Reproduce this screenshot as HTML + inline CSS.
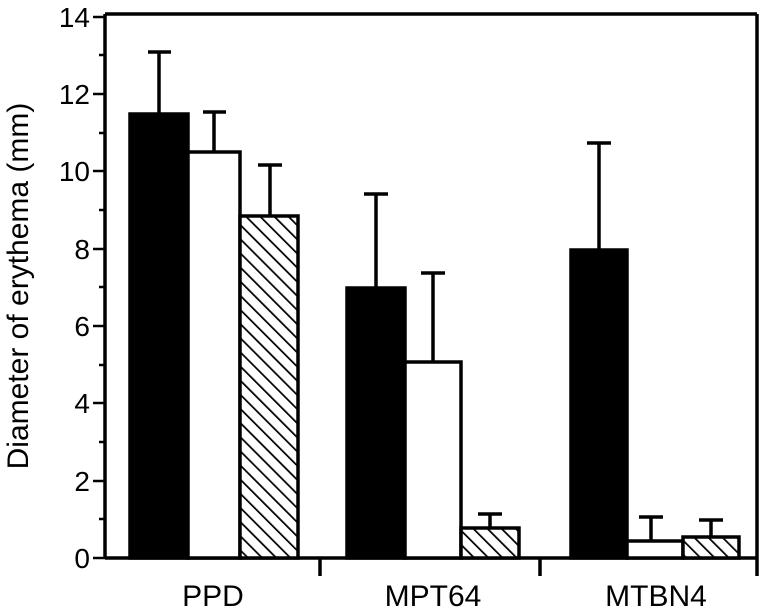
<!DOCTYPE html>
<html><head><meta charset="utf-8"><style>body{margin:0;background:#fff}svg{display:block}</style></head><body>
<svg width="761" height="610" xmlns="http://www.w3.org/2000/svg" font-family="Liberation Sans, Arial, sans-serif">
<defs><pattern id="h" width="10" height="10" patternUnits="userSpaceOnUse" patternTransform="rotate(-45)"><rect width="10" height="10" fill="#fff"/><line x1="0" y1="0" x2="0" y2="10" stroke="#000" stroke-width="3.5"/></pattern></defs>
<g stroke="#000" stroke-width="3.5" fill="none">
<line x1="105" y1="14" x2="757" y2="14"/>
<line x1="757" y1="14" x2="757" y2="576"/>
<line x1="105" y1="14" x2="105" y2="558"/>
<line x1="105" y1="558" x2="757" y2="558"/>
<line x1="320" y1="558" x2="320" y2="576"/>
<line x1="540" y1="558" x2="540" y2="576"/>
</g>
<g stroke="#000" stroke-width="2.5">
<line x1="93" y1="17" x2="105" y2="17"/><line x1="93" y1="94" x2="105" y2="94"/><line x1="93" y1="171" x2="105" y2="171"/><line x1="93" y1="249" x2="105" y2="249"/><line x1="93" y1="326" x2="105" y2="326"/><line x1="93" y1="403" x2="105" y2="403"/><line x1="93" y1="481" x2="105" y2="481"/><line x1="93" y1="558" x2="105" y2="558"/>
<line x1="99" y1="55" x2="105" y2="55"/><line x1="99" y1="133" x2="105" y2="133"/><line x1="99" y1="210" x2="105" y2="210"/><line x1="99" y1="287" x2="105" y2="287"/><line x1="99" y1="365" x2="105" y2="365"/><line x1="99" y1="442" x2="105" y2="442"/><line x1="99" y1="519" x2="105" y2="519"/>
</g>
<g font-size="28" text-anchor="end" fill="#000">
<text x="90" y="27">14</text><text x="90" y="104">12</text><text x="90" y="181">10</text><text x="90" y="259">8</text><text x="90" y="336">6</text><text x="90" y="413">4</text><text x="90" y="491">2</text><text x="90" y="568">0</text>
</g>
<text transform="translate(28,286) rotate(-90)" font-size="30" text-anchor="middle">Diameter of erythema (mm)</text>
<g font-size="30" text-anchor="middle"><text x="213" y="606">PPD</text><text x="433" y="606">MPT64</text><text x="656" y="606">MTBN4</text></g>
<g stroke="#000" stroke-width="3.5">
<line x1="159" y1="52" x2="159" y2="114"/><line x1="148" y1="52" x2="171" y2="52"/>
<line x1="214" y1="112" x2="214" y2="152"/><line x1="203" y1="112" x2="226" y2="112"/>
<line x1="270" y1="165" x2="270" y2="216"/><line x1="258" y1="165" x2="282" y2="165"/>
<line x1="376" y1="194" x2="376" y2="288"/><line x1="364" y1="194" x2="388" y2="194"/>
<line x1="433" y1="273" x2="433" y2="362"/><line x1="421" y1="273" x2="445" y2="273"/>
<line x1="490" y1="514" x2="490" y2="528"/><line x1="478" y1="514" x2="502" y2="514"/>
<line x1="599" y1="143" x2="599" y2="250"/><line x1="587" y1="143" x2="611" y2="143"/>
<line x1="651" y1="517" x2="651" y2="541"/><line x1="639" y1="517" x2="663" y2="517"/>
<line x1="711" y1="520" x2="711" y2="537"/><line x1="699" y1="520" x2="723" y2="520"/>
</g>
<g stroke="#000" stroke-width="3.5">
<rect x="130" y="114" width="58" height="444" fill="#000"/>
<rect x="188" y="152" width="52" height="406" fill="#fff"/>
<rect x="240" y="216" width="58" height="342" fill="url(#h)"/>
<rect x="347" y="288" width="58" height="270" fill="#000"/>
<rect x="405" y="362" width="56" height="196" fill="#fff"/>
<rect x="461" y="528" width="58" height="30" fill="url(#h)"/>
<rect x="571" y="250" width="56" height="308" fill="#000"/>
<rect x="627" y="541" width="56" height="17" fill="#fff"/>
<rect x="683" y="537" width="56" height="21" fill="url(#h)"/>
</g>
</svg>
</body></html>
